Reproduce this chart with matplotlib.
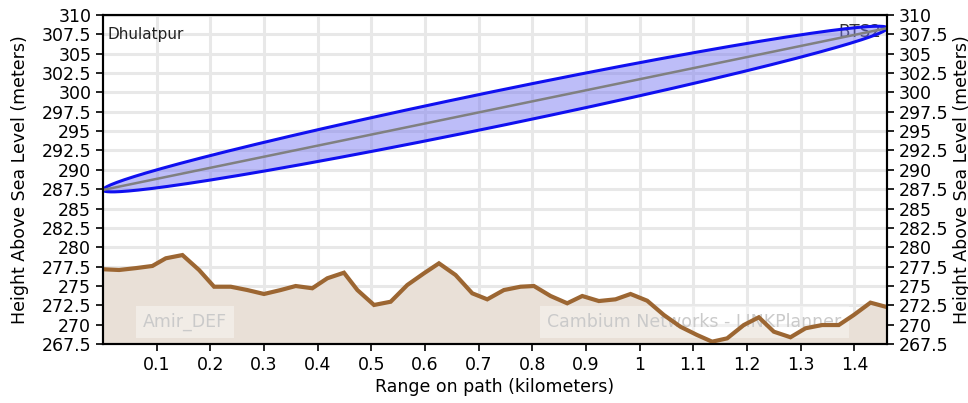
import numpy as np
import matplotlib
matplotlib.use('Agg')
import matplotlib.pyplot as plt

# Профиль местности (км, м)
terrain_km = [0.002, 0.030, 0.061, 0.092, 0.117, 0.148, 0.179, 0.207, 0.238, 0.269,
              0.300, 0.331, 0.359, 0.390, 0.418, 0.449, 0.474, 0.505, 0.536, 0.567,
              0.598, 0.626, 0.657, 0.688, 0.716, 0.747, 0.778, 0.803, 0.834, 0.865,
              0.893, 0.924, 0.955, 0.983, 1.014, 1.045, 1.076, 1.107, 1.135, 1.163,
              1.194, 1.222, 1.250, 1.281, 1.309, 1.340, 1.371, 1.399, 1.430, 1.458]
terrain_h = [277.15, 277.06, 277.3, 277.58, 278.57, 278.99, 277.06, 274.90, 274.90, 274.47,
             273.96, 274.47, 274.99, 274.70, 275.99, 276.71, 274.47, 272.54, 272.96, 275.12,
             276.63, 277.92, 276.41, 274.05, 273.27, 274.47, 274.90, 274.99, 273.70, 272.76,
             273.70, 273.05, 273.27, 273.96, 273.09, 271.25, 269.73, 268.66, 267.80, 268.23,
             269.95, 270.95, 269.09, 268.37, 269.53, 269.95, 269.95, 271.25, 272.84, 272.32]

# Параметры трассы
path_len = 1.461        # км
h_start = 287.4         # высота антенны Dhulatpur
h_end = 308.3           # высота антенны BTS2
fresnel_max = 2.3       # радиус зоны Френеля в середине, м

yticks = [267.5, 270, 272.5, 275, 277.5, 280, 282.5, 285, 287.5, 290, 292.5, 295,
          297.5, 300, 302.5, 305, 307.5, 310]
xticks = [0.1, 0.2, 0.3, 0.4, 0.5, 0.6, 0.7, 0.8, 0.9, 1.0, 1.1, 1.2, 1.3, 1.4]

fig = plt.figure(figsize=(9.68, 4.03), dpi=100)
ax = fig.add_axes([0.1064, 0.1464, 0.81, 0.8164])

# Местность
ax.fill_between(terrain_km, terrain_h, 267.5, color='#e9e0d7', zorder=2)
ax.plot(terrain_km, terrain_h, color='#9c6632', lw=3, zorder=4, solid_joinstyle='miter')

# Зона Френеля
x = np.linspace(0, path_len, 400)
t = x / path_len
line = h_start + (h_end - h_start) * t
r = fresnel_max * 2 * np.sqrt(np.clip(t * (1 - t), 0, None))
ax.fill_between(x, line - r, line + r, color='#6e6ef0', alpha=0.45, zorder=5, lw=0)
ax.plot(x, line + r, color='#1010f0', lw=2.2, zorder=6)
ax.plot(x, line - r, color='#1010f0', lw=2.2, zorder=6)
ax.plot(x, line, color='#808080', lw=1.8, zorder=6)

ax.text(0.006, 0.965, 'Dhulatpur', transform=ax.transAxes, fontsize=11,
        va='top', ha='left', color='#222222', zorder=3)
ax.text(0.993, 0.975, 'BTS2', transform=ax.transAxes, fontsize=12,
        va='top', ha='right', color='#333333', zorder=3)

ax.text(0.074, 270.35, 'Amir_DEF', fontsize=12.5, color='#cacaca', va='center', ha='left',
        zorder=3, bbox=dict(facecolor='white', alpha=0.4, edgecolor='none', pad=5))
ax.text(0.828, 270.35, 'Cambium Networks - LINKPlanner', fontsize=12.5, color='#cacaca',
        va='center', ha='left', zorder=3,
        bbox=dict(facecolor='white', alpha=0.4, edgecolor='none', pad=5))

ax.set_xlim(0, path_len)
ax.set_ylim(267.5, 310)
ax.set_xticks(xticks)
ax.set_xticklabels(['%g' % v for v in xticks])
ax.set_yticks(yticks)
ax.set_yticklabels(['%g' % v for v in yticks])
ax.grid(True, color='#e8e8e8', lw=2.2, zorder=0)
ax.set_axisbelow(True)
ax.tick_params(labelsize=12.5, width=1.2, length=5)
ax.set_xlabel('Range on path (kilometers)', fontsize=12.5, labelpad=3)
ax.set_ylabel('Height Above Sea Level (meters)', fontsize=12.5, labelpad=9)
for s in ax.spines.values():
    s.set_linewidth(1.5)

ax2 = ax.twinx()
ax2.set_ylim(267.5, 310)
ax2.set_yticks(yticks)
ax2.set_yticklabels(['%g' % v for v in yticks])
ax2.tick_params(labelsize=12.5, width=1.2, length=5)
ax2.set_ylabel('Height Above Sea Level (meters)', fontsize=12.5, labelpad=3)
for s in ax2.spines.values():
    s.set_linewidth(1.5)

fig.savefig('out.png', dpi=100)
